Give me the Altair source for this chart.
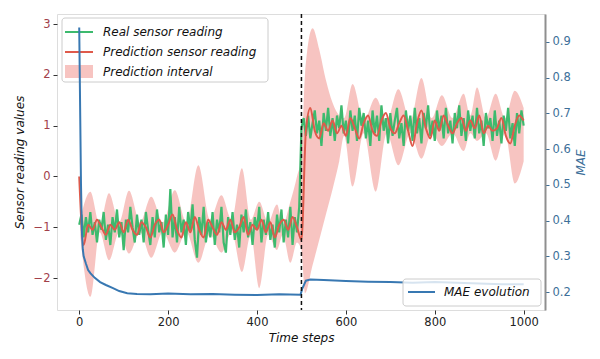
import altair as alt
import pandas as pd

# ---------------- data ----------------
green_t = list(range(0, 1001, 5))
green_v = [
    -0.95, -0.75, -1.2, -0.8, -1.1, -0.7, -1.15, -0.9, -1.3, -0.85,
    -1.05, -0.7, -1.25, -0.95, -1.35, -0.8, -1.1, -0.65, -1.2, -0.9,
    -1.45, -0.85, -1.1, -0.6, -1.0, -1.3, -0.75, -1.15, -0.85, -1.3,
    -0.7, -1.05, -1.35, -0.8, -1.2, -0.65, -1.1, -0.9, -1.4, -0.75,
    -1.15, -0.25, -1.2, -0.8, -1.3, -0.6, -1.1, -0.85, -1.35, -0.7,
    -1.05, -0.55, -1.25, -1.6, -0.8, -1.15, -0.6, -1.3, -0.9, -1.2,
    -0.7, -1.35, -0.85, -1.1, -0.6, -1.3, -1.5, -0.8, -1.15, -0.7,
    -1.25, -0.95, -1.4, -0.75, -1.1, -0.65, -1.2, -0.9, -1.35, -0.8,
    -1.05, -0.6, -1.3, -0.85, -1.15, -0.7, -1.25, -0.95, -1.4, -0.75,
    -1.1, -0.65, -1.3, -0.85, -1.2, -0.6, -1.35, -0.8, -1.1, -0.6,
    0.95, 1.15, 0.8, 1.2, 0.75, 1.05, 1.3, 0.85, 1.1, 0.6,
    1.25, 0.9, 1.35, 0.8, 1.15, 0.7, 1.2, 0.95, 1.4, 0.85,
    1.1, 0.65, 1.3, 0.9, 1.2, 0.7, 1.35, 1.0, 1.25, 0.75,
    1.1, 0.6, 1.3, 0.85, 1.2, 0.7, 1.4, 0.9, 1.15, 0.65,
    1.25, 0.8, 1.1, 1.35, 0.75, 1.05, 0.6, 1.3, 0.9, 1.2,
    0.7, 1.35, 0.85, 1.15, 0.65, 1.25, 0.95, 1.4, 0.8, 1.1,
    0.7, 1.3, 0.9, 1.2, 0.75, 1.35, 0.85, 1.1, 0.65, 1.25,
    0.95, 1.4, 0.8, 1.15, 0.7, 1.3, 0.9, 1.2, 0.75, 1.35,
    0.85, 1.1, 0.6, 1.25, 0.95, 1.15, 0.7, 1.3, 0.8, 1.1,
    0.65, 1.2, 0.9, 1.35, 0.75, 1.05, 0.6, 1.25, 0.85, 1.3,
    1.0,
]

red_t = list(range(0, 1001, 10))
red_v = [
    0.0, -1.35, -0.95, -1.05, -0.85, -1.0, -1.15, -0.95, -1.05, -0.9,
    -1.1, -0.85, -1.05, -1.15, -0.9, -1.0, -1.2, -0.95, -0.85, -1.1,
    -0.95, -0.75, -1.05, -1.2, -0.9, -1.1, -0.8, -1.05, -1.2, -0.85,
    -1.0, -1.15, -0.9, -1.05, -0.85, -1.1, -1.0, -0.8, -1.15, -0.95,
    -1.05, -0.85, -1.1, -0.9, -1.2, -0.95, -0.85, -1.05, -0.8, -1.0,
    -1.25, 0.9, 1.35, 0.9, 0.75, 1.05, 0.9, 1.1, 0.85, 1.0,
    0.8, 1.15, 0.95, 0.75, 1.05, 1.2, 0.9, 0.8, 1.1, 1.25,
    0.95, 0.85, 1.05, 1.2, 0.9, 0.6, 1.05, 1.3, 0.95, 0.75,
    1.1, 0.9, 1.2, 1.0, 0.85, 1.05, 1.15, 0.9, 1.1, 0.95,
    1.2, 0.85, 1.0, 0.9, 0.95, 1.15, 0.8, 0.65, 1.0, 1.2,
    1.1,
]

band_t = [2, 25, 46, 67, 90, 112, 137, 162, 188, 215, 241, 268, 294, 320,
          343, 366, 386, 405, 425, 445, 458, 475, 490, 500, 508, 525, 540,
          555, 570, 585, 596, 615, 640, 667, 692, 718, 745, 770, 793, 816,
          840, 865, 880, 895, 915, 937, 958, 980, 1000]
band_hi = [-0.85, -0.3, -0.95, -0.33, -0.9, -0.28, -0.9, -0.4, -0.9, -0.27,
           -0.9, 0.22, -0.85, -0.37, -0.85, 0.16, -0.85, -0.5, -0.9, -0.55,
           -0.95, -0.5, 0.0, 0.4, 2.0, 2.92, 2.5, 1.9, 1.45, 1.2,
           1.15, 1.82, 1.1, 1.55, 1.1, 1.72, 1.1, 1.94, 1.15, 1.6,
           1.15, 1.63, 1.2, 1.75, 1.15, 1.63, 1.15, 1.69, 1.35]
band_lo = [-1.15, -2.37, -1.1, -1.65, -1.1, -1.52, -1.1, -1.6, -1.1, -1.5,
           -1.1, -1.7, -1.15, -1.5, -1.1, -1.88, -1.15, -2.2, -1.15, -1.45,
           -1.15, -1.7, -1.3, -1.45, -2.3, -1.75, -1.25, -0.75, -0.25, 0.3,
           0.8, -0.2, 0.85, -0.3, 0.85, 0.22, 0.85, 0.35, 0.85, 0.6,
           0.85, 0.5, 0.85, 0.7, 0.85, 0.31, 0.85, -0.14, 0.3]

mae_t = [0, 2, 4, 6, 8, 10, 15, 20, 25, 35, 47, 60, 76, 90, 108, 130, 160,
         200, 250, 300, 350, 400, 450, 498, 502, 510, 520, 550, 600, 650,
         700, 750, 800, 850, 900, 950, 1000]
mae_v = [0.94, 0.72, 0.5, 0.37, 0.32, 0.3, 0.28, 0.262, 0.253, 0.24, 0.228,
         0.22, 0.211, 0.203, 0.197, 0.195, 0.194, 0.196, 0.194, 0.195, 0.193,
         0.192, 0.194, 0.193, 0.21, 0.232, 0.235, 0.234, 0.231, 0.229, 0.228,
         0.226, 0.228, 0.226, 0.224, 0.222, 0.222]

change_point = [500]

x_ticks = [0, 200, 400, 600, 800, 1000]
y_ticks = [-2, -1, 0, 1, 2, 3]
mae_ticks = [0.2, 0.3, 0.4, 0.5, 0.6, 0.7, 0.8, 0.9]

legend_main = ["Real sensor reading", "Prediction sensor reading", "Prediction interval"]
legend_mae = "MAE evolution"

# ---------------- styles ----------------
GREEN = "#3dba6e"
RED = "#df5a4b"
PINK = "#f08a84"
BLUE = "#3878b2"
LEFT_LAB = "#a2404a"
RIGHT_LAB = "#3d6f99"
FONT = "DejaVu Sans"

green_df = pd.DataFrame({"t": green_t, "v": green_v})
red_df = pd.DataFrame({"t": red_t, "v": red_v})
band_df = pd.DataFrame({"t": band_t, "hi": band_hi, "lo": band_lo})
mae_df = pd.DataFrame({"t": mae_t, "m": mae_v})
rule_df = pd.DataFrame({"t": change_point})
dummy = pd.DataFrame({"k": [0]})

xs = alt.Scale(domain=[-50, 1048], nice=False, zero=False)
ys = alt.Scale(domain=[-2.63, 3.2], nice=False, zero=False)
ms = alt.Scale(domain=[0.15, 0.978], nice=False, zero=False)

x_axis = alt.Axis(values=x_ticks, format="d", title="Time steps", grid=False, domain=False,
                  tickSize=4, tickColor="#333", labelFontSize=11.5, labelColor="#222",
                  labelPadding=2, labelFont=FONT, titleFont=FONT, titleFontSize=12,
                  titleFontStyle="italic", titleFontWeight="normal", titlePadding=5,
                  titleColor="#111")
y_axis = alt.Axis(values=y_ticks, title="Sensor reading values", grid=False, domain=False,
                  tickSize=4, tickColor="#333", labelFontSize=11.5, labelColor=LEFT_LAB,
                  labelPadding=3, labelFont=FONT, titleFont=FONT, titleFontSize=12,
                  titleFontStyle="italic", titleFontWeight="normal", titlePadding=7,
                  titleColor="#111")
mae_axis = alt.Axis(orient="right", values=mae_ticks, format=".1f", title="MAE", grid=False,
                    domain=True, domainColor="#8f8f8f", domainWidth=2,
                    tickSize=4, tickColor=RIGHT_LAB, labelFontSize=11.5, labelColor=RIGHT_LAB,
                    labelPadding=3, labelFont=FONT, titleFont=FONT, titleFontSize=12,
                    titleFontStyle="italic", titleFontWeight="normal", titlePadding=17,
                    titleColor=RIGHT_LAB, titleAngle=270)

X = alt.X("t:Q", scale=xs, axis=x_axis)

band = alt.Chart(band_df).mark_area(color=PINK, opacity=0.5, interpolate="monotone", clip=True).encode(
    x=X, y=alt.Y("hi:Q", scale=ys, axis=y_axis), y2="lo:Q")
green = alt.Chart(green_df).mark_line(color=GREEN, strokeWidth=2.2, clip=True).encode(
    x=X, y=alt.Y("v:Q", scale=ys, axis=y_axis))
red = alt.Chart(red_df).mark_line(color=RED, strokeWidth=2, clip=True, interpolate="monotone").encode(
    x=X, y=alt.Y("v:Q", scale=ys, axis=y_axis))
sensor = alt.layer(band, green, red)

mae = alt.Chart(mae_df).mark_line(color=BLUE, strokeWidth=2, clip=True).encode(
    x=X, y=alt.Y("m:Q", scale=ms, axis=mae_axis))

rule = alt.Chart(rule_df).mark_rule(color="#111", strokeDash=[4, 3], strokeWidth=1.5).encode(x=X)

# ---------------- legends (pixel positions inside the plot area) ----------------
def text_mark(label, x, y):
    return alt.Chart(dummy).mark_text(text=label, align="left", baseline="middle", fontSize=12,
                                      fontStyle="italic", font=FONT, color="#111").encode(
        x=alt.value(x), y=alt.value(y))

box1 = alt.Chart(dummy).mark_rect(fill="white", fillOpacity=0.8, stroke="#cccccc", strokeWidth=1,
                                  cornerRadius=3).encode(
    x=alt.value(5), x2=alt.value(211), y=alt.value(4), y2=alt.value(68))
l_green = alt.Chart(dummy).mark_rule(color=GREEN, strokeWidth=2).encode(
    x=alt.value(8), x2=alt.value(36), y=alt.value(18))
l_red = alt.Chart(dummy).mark_rule(color=RED, strokeWidth=2).encode(
    x=alt.value(8), x2=alt.value(36), y=alt.value(38))
l_pink = alt.Chart(dummy).mark_rect(color=PINK, opacity=0.5).encode(
    x=alt.value(8), x2=alt.value(36), y=alt.value(51), y2=alt.value(64))
t1 = text_mark(legend_main[0], 46, 18)
t2 = text_mark(legend_main[1], 46, 38)
t3 = text_mark(legend_main[2], 46, 58)

box2 = alt.Chart(dummy).mark_rect(fill="white", fillOpacity=0.8, stroke="#cccccc", strokeWidth=1,
                                  cornerRadius=3).encode(
    x=alt.value(346), x2=alt.value(484), y=alt.value(265), y2=alt.value(292))
l_blue = alt.Chart(dummy).mark_rule(color=BLUE, strokeWidth=2).encode(
    x=alt.value(351), x2=alt.value(378), y=alt.value(278))
t4 = text_mark(legend_mae, 387, 278)

chart = alt.layer(
    sensor, box1, l_green, l_red, l_pink, t1, t2, t3, mae, rule, box2, l_blue, t4
).resolve_scale(y="independent").properties(
    width=488, height=296,
    autosize=alt.AutoSizeParams(type="none"),
    padding={"left": 49, "top": 6, "right": 47, "bottom": 41},
).configure_view(stroke="#444", strokeWidth=1).configure(background="white")

chart.save("out.html", embed_options={"renderer": "svg", "actions": False})
